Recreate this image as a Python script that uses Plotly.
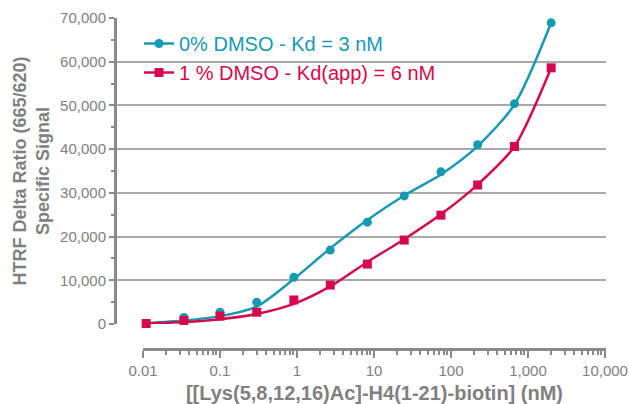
import plotly.graph_objects as go

# Data
conc_nM = [0.011, 0.034, 0.10, 0.30, 0.91, 2.7, 8.2, 24.7, 74, 222, 667, 2000]
# measured points
signal_0pct = [200, 1500, 2700, 5000, 10700, 16900, 23300, 29300, 34800, 41000, 50400, 68900]
signal_1pct = [100, 800, 1800, 2700, 5500, 8900, 13700, 19200, 24900, 31800, 40600, 58600]
# fitted curves
fit_0pct = [200, 800, 1800, 4000, 10300, 17300, 23800, 29400, 34200, 40700, 50200, 68900]
fit_1pct = [100, 450, 1100, 2300, 4600, 8600, 14200, 19400, 25100, 31900, 40600, 58600]

series_names = ["0% DMSO - Kd = 3 nM", "1 % DMSO - Kd(app) = 6 nM"]
series_colors = ["#1699B3", "#D40A4C"]

x_tickvals = [0.01, 0.1, 1, 10, 100, 1000, 10000]
x_ticktext = ["0.01", "0.1", "1", "10", "100", "1,000", "10,000"]
x_minor_digits = [2, 3, 4, 5, 6, 7, 8, 9]
y_tickvals = [0, 10000, 20000, 30000, 40000, 50000, 60000, 70000]

x_minorvals = [d * v for v in x_tickvals[:-1] for d in x_minor_digits]

AX = "#8a8a8a"
TXT = "#808080"
FONT = "Liberation Sans, Arial, sans-serif"

W, H = 629, 404
ml, mr, mt, mb = 117, 23, 18, 56
pw, ph = W - ml - mr, H - mt - mb

fig = go.Figure()
series = [(signal_0pct, fit_0pct, series_names[0], series_colors[0], "circle"),
          (signal_1pct, fit_1pct, series_names[1], series_colors[1], "square")]
for pts, fit, name, col, sym in series:
    fig.add_trace(go.Scatter(
        x=conc_nM, y=fit, mode="lines", xaxis="x2", yaxis="y2", legendgroup=name,
        showlegend=False, hoverinfo="skip",
        line=dict(color=col, width=2.5, shape="spline", smoothing=0.75),
        cliponaxis=False,
    ))
    fig.add_trace(go.Scatter(
        x=conc_nM, y=pts, mode="markers", xaxis="x2", yaxis="y2", legendgroup=name,
        showlegend=False, name=name,
        marker=dict(color=col, size=9, symbol=sym),
        cliponaxis=False,
    ))
    # legend entry (line + marker), no data drawn
    fig.add_trace(go.Scatter(
        x=[None], y=[None], mode="lines+markers", xaxis="x2", yaxis="y2",
        legendgroup=name, name=f"<span style='color:{col}'>{name}</span>",
        line=dict(color=col, width=2.5), marker=dict(color=col, size=9, symbol=sym),
    ))

# empty helper trace so the offset tick axis (x) is drawn
fig.add_trace(go.Scatter(x=[], y=[], xaxis="x", yaxis="y", mode="markers",
                         showlegend=False, hoverinfo="skip"))

left_pad = 26 / 77.0
fig.update_layout(
    width=W, height=H,
    margin=dict(l=ml, r=mr, t=mt, b=mb),
    paper_bgcolor="white", plot_bgcolor="white",
    font=dict(family=FONT, color=TXT),
    showlegend=True,
    legend=dict(x=22 / pw, y=1 - 6 / ph, xanchor="left", yanchor="top",
                font=dict(size=20, family=FONT), bgcolor="rgba(0,0,0,0)",
                itemwidth=30, tracegroupgap=0),
    # offset x axis with ticks (bottom of the full-height helper y axis)
    xaxis=dict(type="log", domain=[26 / pw, 1], range=[-2, 4 + 1 / 77.0], anchor="y",
               automargin=False,
               showline=True, linecolor=AX, linewidth=3,
               showgrid=False, zeroline=False,
               tickmode="array", tickvals=x_tickvals, ticktext=x_ticktext,
               ticks="outside", ticklen=7, tickwidth=2, tickcolor=AX,
               tickfont=dict(size=15, color=TXT, family=FONT),
               minor=dict(ticks="outside", ticklen=4, tickwidth=1.5, tickcolor=AX,
                          tickmode="array", tickvals=x_minorvals, showgrid=False),
               title=dict(text="<b>[[Lys(5,8,12,16)Ac]-H4(1-21)-biotin] (nM)</b>",
                          font=dict(size=20, color=TXT, family=FONT), standoff=8)),
    yaxis=dict(domain=[0, 1], range=[-24 * 70000 / 306, 70000], anchor="x",
               visible=False, showgrid=False, zeroline=False, automargin=False),
    # data axes
    xaxis2=dict(type="log", domain=[0, 1], range=[-2 - left_pad, 4 + 1 / 77.0],
                anchor="y2", visible=False, showgrid=False, zeroline=False,
                automargin=False),
    yaxis2=dict(domain=[24 / ph, 1], range=[0, 70000], anchor="x2", automargin=False,
                showline=True, linecolor=AX, linewidth=3,
                showgrid=True, gridcolor="#a9a9a9", gridwidth=1.5, zeroline=False,
                tickvals=y_tickvals, tickformat=",",
                ticks="outside", ticklen=5, tickwidth=2, tickcolor=AX,
                tickfont=dict(size=15, color=TXT, family=FONT),
                minor=dict(ticks="outside", ticklen=3, tickwidth=1.5, tickcolor=AX,
                           dtick=5000, showgrid=False),
                title=dict(text="<b>HTRF Delta Ratio (665/620)<br>Specific Signal</b>",
                           font=dict(size=18, color=TXT, family=FONT), standoff=6)),
)

fig.write_html("out.html")
